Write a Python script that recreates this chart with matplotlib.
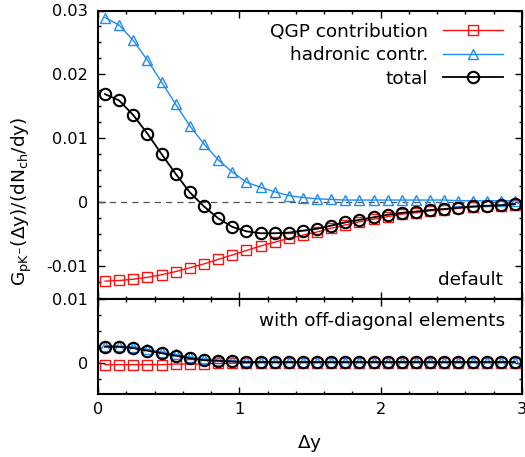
import numpy as np
import matplotlib
matplotlib.use("Agg")
import matplotlib.pyplot as plt
from matplotlib.ticker import MultipleLocator, FixedLocator

plt.rcParams['font.family'] = ['DejaVu Sans']
plt.rcParams['mathtext.fontset'] = 'dejavusans'

# ---- data ----
dy = [0.05, 0.15, 0.25, 0.35, 0.45, 0.55, 0.65, 0.75, 0.85, 0.95,
      1.05, 1.15, 1.25, 1.35, 1.45, 1.55, 1.65, 1.75, 1.85, 1.95,
      2.05, 2.15, 2.25, 2.35, 2.45, 2.55, 2.65, 2.75, 2.85, 2.95]

qgp_default = [-0.0124, -0.0123, -0.0121, -0.0118, -0.0114, -0.0109, -0.0103, -0.0097, -0.0090, -0.0083,
               -0.0076, -0.0069, -0.0063, -0.0057, -0.0052, -0.0047, -0.0041, -0.0036, -0.0031, -0.0027,
               -0.0023, -0.0019, -0.0017, -0.0014, -0.0012, -0.0010, -0.0008, -0.0007, -0.0006, -0.0004]
had_default = [0.0289, 0.0277, 0.0253, 0.0222, 0.0188, 0.0153, 0.0119, 0.0091, 0.0066, 0.0047,
               0.0031, 0.0023, 0.0016, 0.0010, 0.0007, 0.0005, 0.0004, 0.0003, 0.0003, 0.0003,
               0.0003, 0.0003, 0.0003, 0.0003, 0.0003, 0.0002, 0.0002, 0.0002, 0.0002, 0.0002]
tot_default = [0.0169, 0.0159, 0.0136, 0.0107, 0.0075, 0.0044, 0.0015, -0.0007, -0.00255, -0.0039,
               -0.0046, -0.0049, -0.0049, -0.0048, -0.0045, -0.0042, -0.0037, -0.0032, -0.0028, -0.0024,
               -0.0020, -0.0017, -0.0015, -0.00125, -0.0011, -0.0009, -0.0007, -0.0006, -0.0005, -0.0003]

qgp_offdiag = [-0.0003, -0.0003, -0.0003, -0.0003, -0.0003, -0.0002, -0.0002, -0.0002, -0.0001, -0.0001,
               -0.00005, 0.0, 0.0, 0.0, 0.0, 0.0, 0.0, 0.0, 0.0, 0.0,
               0.0, 0.0, 0.0, 0.0, 0.0, 0.0, 0.0, 0.0, 0.0, 0.0]
had_offdiag = [0.0027, 0.0026, 0.0025, 0.0021, 0.0017, 0.0013, 0.0009, 0.0006, 0.0004, 0.0003,
               0.0002, 0.0001, 0.0001, 0.0001, 0.0001, 0.0001, 0.0001, 0.0001, 0.0001, 0.0001,
               0.0001, 0.0001, 0.0001, 0.0001, 0.0001, 0.0001, 0.0001, 0.0001, 0.0001, 0.0001]
tot_offdiag = [0.0025, 0.0025, 0.0023, 0.0019, 0.0015, 0.0011, 0.0007, 0.0004, 0.0003, 0.0002,
               0.0001, 0.0001, 0.0001, 0.0001, 0.0001, 0.0001, 0.0001, 0.0001, 0.0001, 0.0001,
               0.0001, 0.0001, 0.0001, 0.0001, 0.0001, 0.0001, 0.0001, 0.0001, 0.0001, 0.0001]

labels = ["QGP contribution", "hadronic contr.", "total"]
top_yticks = [-0.01, 0, 0.01, 0.02, 0.03]
top_yticklabels = ["-0.01", "0", "0.01", "0.02", "0.03"]
bot_yticks = [0, 0.01]
bot_yticklabels = ["0", "0.01"]
xticks = [0, 1, 2, 3]
xticklabels = ["0", "1", "2", "3"]

RED = '#ff1010'
BLUE = '#1e8cf0'
BLACK = '#000000'

W, H = 525, 457
fig = plt.figure(figsize=(W / 100, H / 100), dpi=100)
left, right = 98 / W, 522 / W
ax1 = fig.add_axes([left, (H - 299) / H, right - left, (299 - 10.5) / H])
ax2 = fig.add_axes([left, (H - 394) / H, right - left, (394 - 299) / H])

TICK_FS = 11.6
TEXT_FS = 13.3

def style(ax):
    for s in ax.spines.values():
        s.set_linewidth(1.5)
    ax.tick_params(which='both', direction='in', top=True, right=True, labelsize=TICK_FS)
    ax.tick_params(axis='y', pad=7)
    ax.tick_params(axis='x', pad=5.5)
    ax.tick_params(which='major', length=5, width=1.0)
    ax.tick_params(which='minor', length=2.5, width=1.0)
    ax.xaxis.set_major_locator(FixedLocator(xticks))
    ax.xaxis.set_minor_locator(MultipleLocator(0.2))
    ax.yaxis.set_minor_locator(MultipleLocator(0.0025))
    ax.set_xlim(0, 3)

def plot_set(ax, q, h, t):
    ax.plot(dy, q, color=RED, lw=1.0, marker='s', ms=7.4, mfc='none', mec=RED, mew=1.0, label=labels[0])
    ax.plot(dy, h, color=BLUE, lw=1.0, marker='^', ms=7.4, mfc='none', mec=BLUE, mew=1.0, label=labels[1])
    ax.plot(dy, t, color=BLACK, lw=1.3, marker='o', ms=8.2, mfc='none', mec=BLACK, mew=1.5, label=labels[2])

style(ax1)
ax1.axhline(0, color='#555555', lw=0.9, ls=(0, (5, 4)))
plot_set(ax1, qgp_default, had_default, tot_default)
ax1.set_ylim(-0.0152, 0.03)
ax1.set_yticks(top_yticks)
ax1.set_yticklabels(top_yticklabels)
ax1.set_xticklabels([])
leg = ax1.legend(loc='upper right', markerfirst=False, frameon=False, fontsize=TEXT_FS,
                 handlelength=3.25, handletextpad=0.8, labelspacing=0.3,
                 borderpad=0, borderaxespad=0, bbox_to_anchor=(0.955, 0.958))
ax1.text(0.955, 0.0485, "default", transform=ax1.transAxes, ha='right', va='baseline', fontsize=TEXT_FS)

style(ax2)
plot_set(ax2, qgp_offdiag, had_offdiag, tot_offdiag)
ax2.set_ylim(-0.0049, 0.01)
ax2.set_yticks(bot_yticks)
ax2.set_yticklabels(bot_yticklabels)
ax2.set_xticks(xticks)
ax2.set_xticklabels(xticklabels)
ax2.text(0.96, 0.716, "with off-diagonal elements", transform=ax2.transAxes, ha='right', va='baseline', fontsize=TEXT_FS)
ax2.set_xlabel(r"$\Delta$y", fontsize=TEXT_FS, labelpad=12)

fig.text(0.042, (H - 201) / H, r"G$_{\mathrm{pK}^{\mathrm{-}}}$($\Delta$y)/(dN$_{\mathrm{ch}}$/dy)",
         rotation=90, ha='center', va='center', fontsize=13.3)

fig.savefig("out.png", dpi=100)
